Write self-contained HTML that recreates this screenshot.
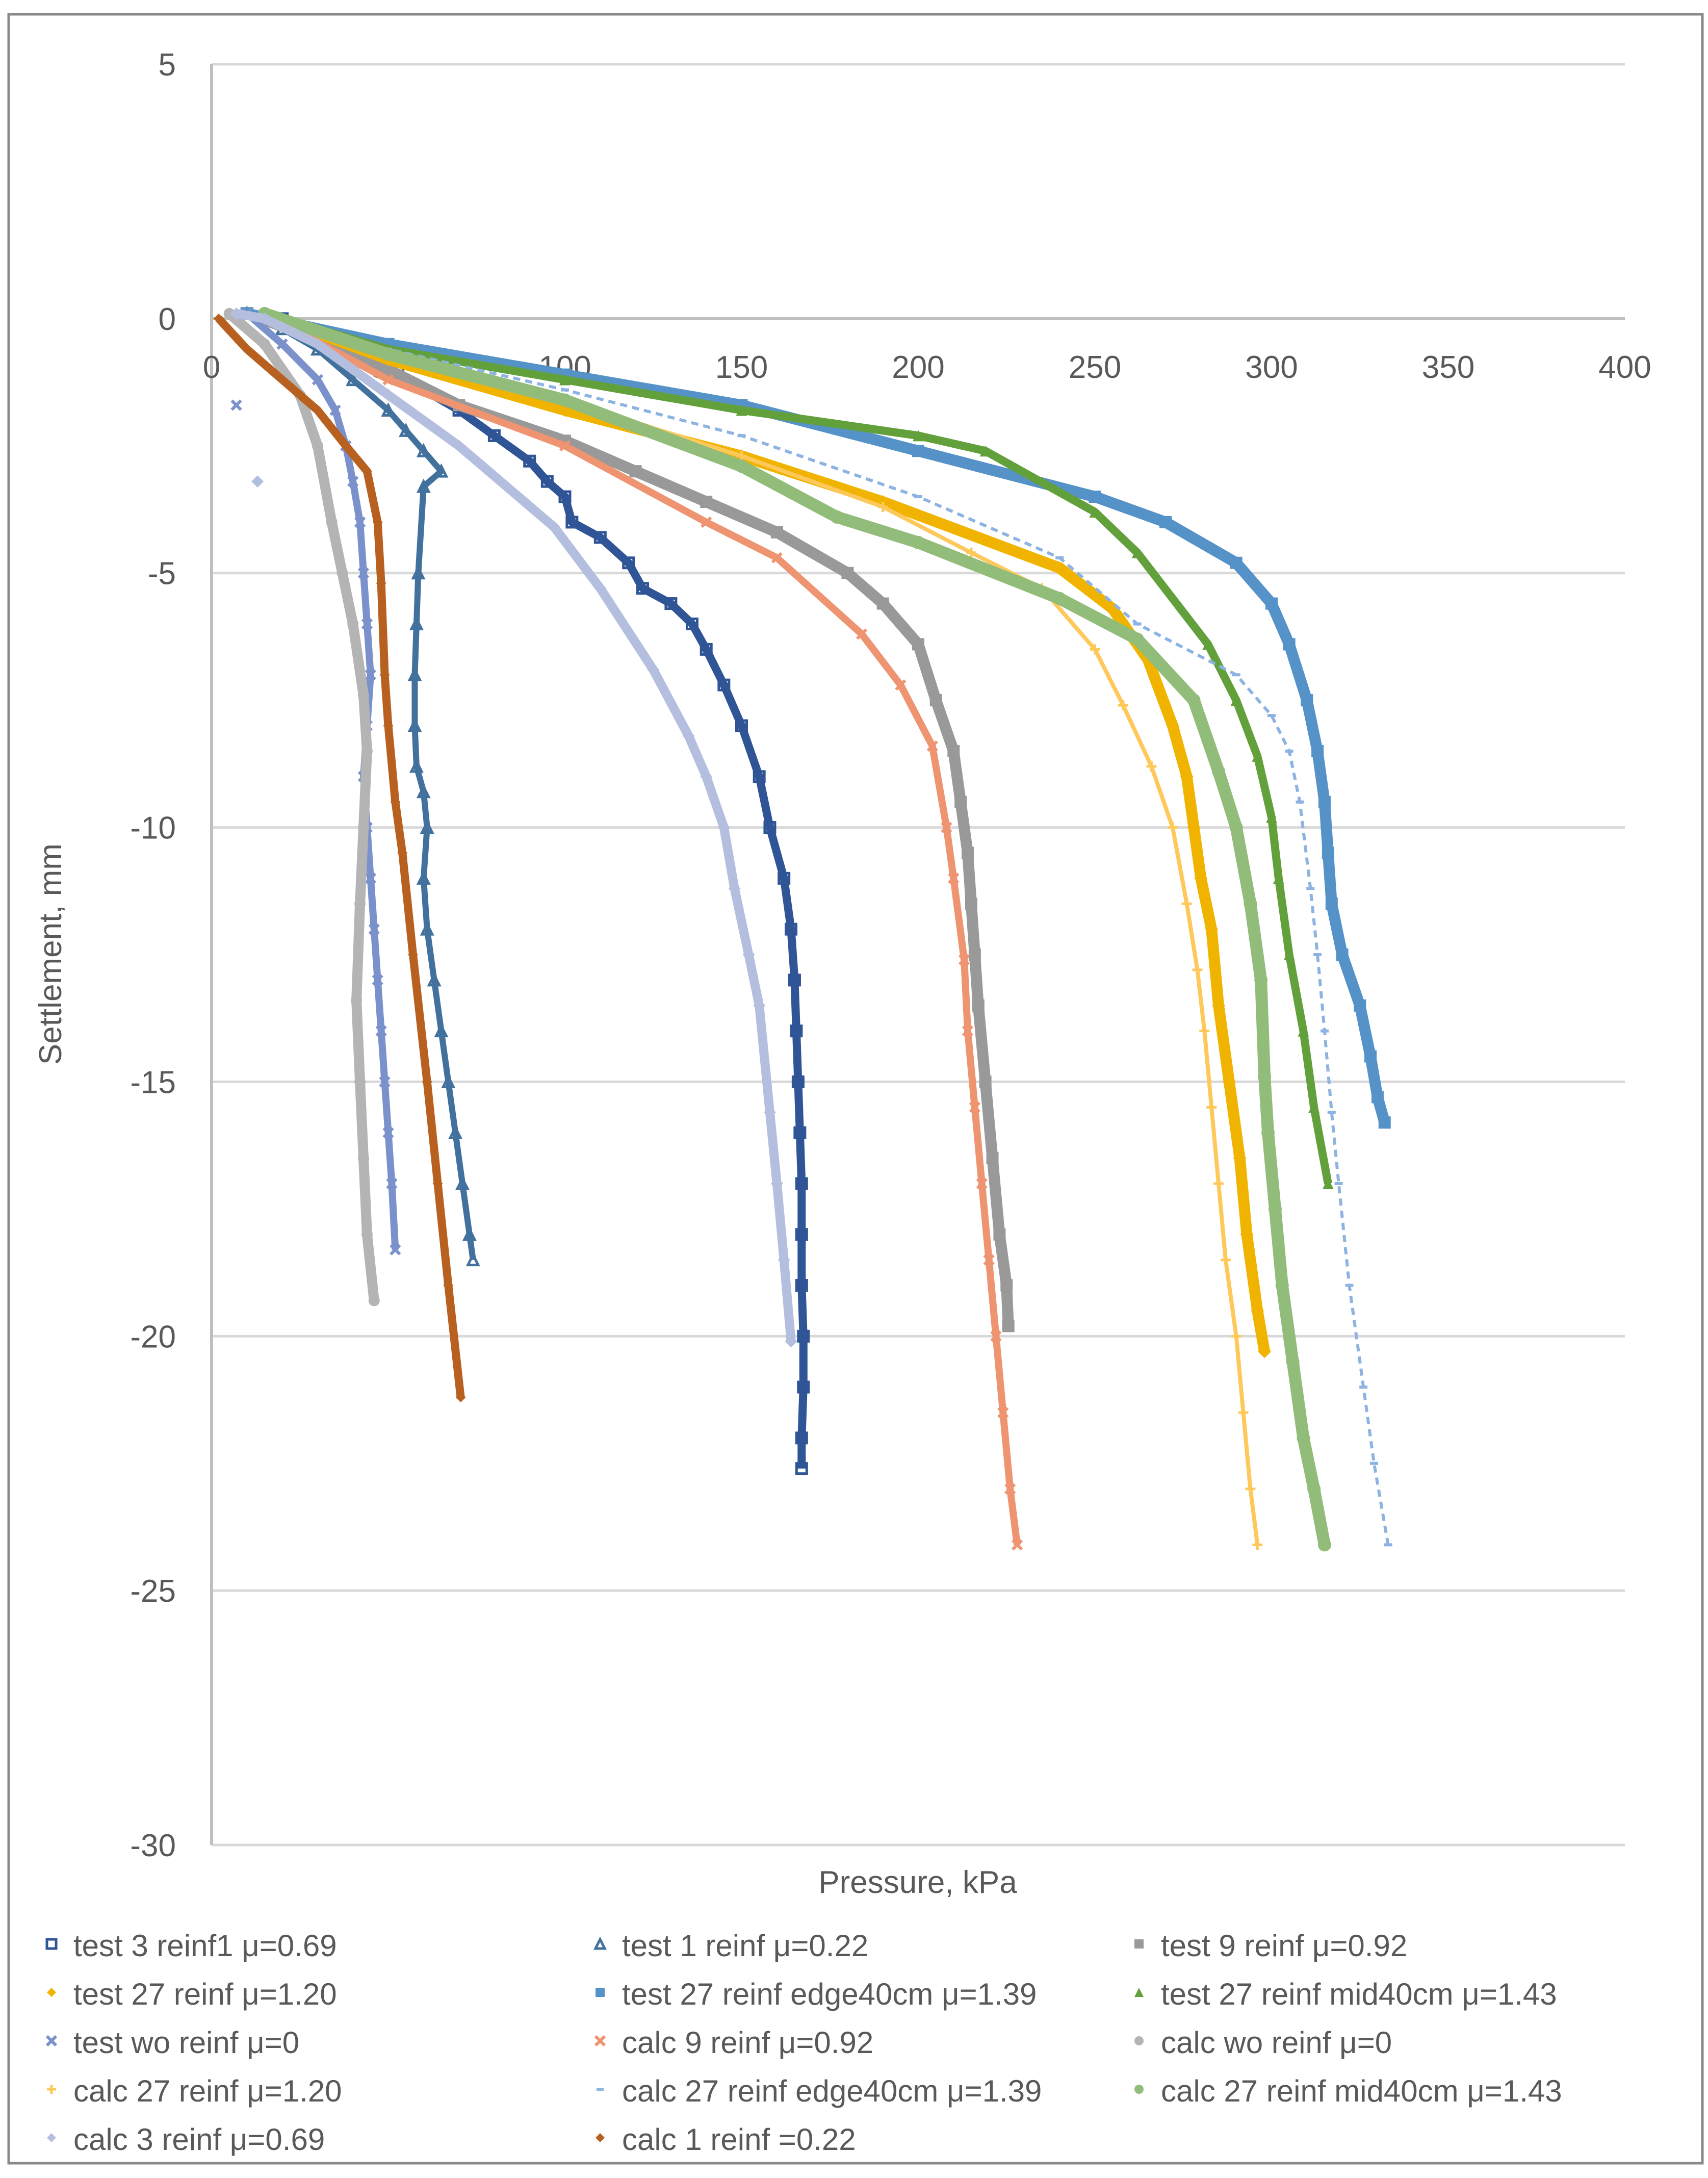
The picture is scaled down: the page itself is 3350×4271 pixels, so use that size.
<!DOCTYPE html>
<html><head><meta charset="utf-8"><style>
html,body{margin:0;padding:0;background:#fff}
svg{display:block}
text{font-family:"Liberation Sans",sans-serif;fill:#595959}
</style></head><body>
<svg id="chart" width="3350" height="4271" viewBox="0 0 3350 4271" xmlns="http://www.w3.org/2000/svg">
<rect x="17" y="28" width="3322" height="4214" fill="#fff" stroke="#8a8a8a" stroke-width="5"/>
<g id="grid"></g><g id="series"></g><g id="legend"></g>
<text x="0" y="0" transform="translate(120,1871) rotate(-90)" text-anchor="middle" font-size="62">Settlement, mm</text>
<text x="1800" y="3712" text-anchor="middle" font-size="62">Pressure, kPa</text>
</svg>
<script>
const xTicks=[0,50,100,150,200,250,300,350,400];
const yTicks=[5,0,-5,-10,-15,-20,-25,-30];
const names=["test 3 reinf1 μ=0.69","test 1 reinf μ=0.22","test 9 reinf μ=0.92","test 27 reinf μ=1.20","test 27 reinf edge40cm μ=1.39","test 27 reinf mid40cm μ=1.43","test wo reinf μ=0","calc 9 reinf μ=0.92","calc wo reinf μ=0","calc 27 reinf μ=1.20","calc 27 reinf edge40cm μ=1.39","calc 27 reinf mid40cm μ=1.43","calc 3 reinf μ=0.69","calc 1 reinf =0.22"];
const test3P=[10,20,30,50,70,80,90,95,100,102,110,118,122,130,136,140,145,150,155,158,162,164,165,165.5,166,166.5,167,167,167,167.5,167.5,167,167];
const test3S=[0.1,0,-0.4,-1.0,-1.8,-2.3,-2.8,-3.2,-3.5,-4.0,-4.3,-4.8,-5.3,-5.6,-6.0,-6.5,-7.2,-8.0,-9.0,-10,-11,-12,-13,-14,-15,-16,-17,-18,-19,-20,-21,-22,-22.6];
const test1P=[10,20,30,40,50,55,60,65,60,58.5,58,57.5,57.5,58,60,61,60,61,63,65,67,69,71,73,74];
const test1S=[0.1,-0.2,-0.6,-1.2,-1.8,-2.2,-2.6,-3.0,-3.3,-5,-6,-7,-8,-8.8,-9.3,-10,-11,-12,-13,-14,-15,-16,-17,-18,-18.5];
const test9P=[10,30,50,70,100,120,140,160,180,190,200,205,210,212,214,215,216,217,219,221,223,225,225.5];
const test9S=[0.1,-0.4,-1.0,-1.7,-2.4,-3.0,-3.6,-4.2,-5.0,-5.6,-6.4,-7.5,-8.5,-9.5,-10.5,-11.5,-12.5,-13.5,-15,-16.5,-18,-19,-19.8];
const test27P=[15,50,100,150,190,240,255,265,272,276,278,280,283,285,288,291,293,296,298];
const test27S=[0.1,-0.8,-1.8,-2.7,-3.6,-4.9,-5.7,-6.7,-8,-9,-10,-11,-12,-13.5,-15,-16.5,-18,-19.5,-20.3];
const edgeP=[10,50,100,150,200,250,270,290,300,305,310,313,315,316,317,320,325,328,330,332];
const edgeS=[0.1,-0.5,-1.1,-1.7,-2.6,-3.5,-4.0,-4.8,-5.6,-6.4,-7.5,-8.5,-9.5,-10.5,-11.5,-12.5,-13.5,-14.5,-15.3,-15.8];
const midP=[15,50,100,150,200,219,250,262,282,290,296,300,302,305,309,312,316];
const midS=[0.1,-0.6,-1.2,-1.8,-2.3,-2.6,-3.8,-4.6,-6.4,-7.5,-8.6,-9.8,-11,-12.5,-14,-15.5,-17];
const woP=[10,20,30,35,38,40,42,43,44,45,44,43,44,45,46,47,48,49,50,51,52];
const woS=[0.1,-0.5,-1.2,-1.8,-2.5,-3.2,-4,-5,-6,-7,-8,-9,-10,-11,-12,-13,-14,-15,-16,-17,-18.3];
const c9P=[15,50,100,140,160,184,195,204,208,210,213,214,216,218,220,222,224,226,228];
const c9S=[0.1,-1.2,-2.5,-4.0,-4.7,-6.2,-7.2,-8.4,-10,-11,-12.6,-14,-15.5,-17,-18.5,-20,-21.5,-23,-24.1];
const cwoP=[5,15,25,30,34,37,40,43,44,43,42,41,42,43,44,46];
const cwoS=[0.1,-0.5,-1.5,-2.5,-4.0,-5.0,-6.0,-7.4,-8.5,-10,-11.5,-13.4,-15,-16.5,-18,-19.3];
const c27P=[15,50,100,150,190,215,235,250,258,266,272,276,279,281,283,285,287,290,292,294,296];
const c27S=[0.1,-0.7,-1.6,-2.7,-3.7,-4.6,-5.3,-6.5,-7.6,-8.8,-10,-11.5,-12.8,-14,-15.5,-17,-18.5,-20,-21.5,-23,-24.1];
const cEdgeP=[15,50,100,150,200,240,262,290,300,305,308,311,313,315,317,319,322,326,329,333];
const cEdgeS=[0.1,-0.6,-1.4,-2.3,-3.5,-4.7,-6.0,-7.0,-7.8,-8.5,-9.5,-11.2,-12.5,-14,-15.6,-17,-19,-21,-22.5,-24.1];
const cMidP=[15,50,100,150,177,200,240,262,278,285,290,294,297,298,299,301,303,306,309,312,315];
const cMidS=[0.1,-0.7,-1.6,-2.9,-3.9,-4.4,-5.5,-6.3,-7.5,-8.9,-10,-11.5,-13,-14.9,-16,-17.5,-19,-20.5,-22,-23,-24.1];
const c3P=[7,15,30,50,70,97,110,125,135,140,145,148,152,155,158,160,162,164,13];
const c3S=[0.1,0,-0.5,-1.5,-2.5,-4.1,-5.3,-6.9,-8.2,-9.0,-10,-11.2,-12.5,-13.5,-15.6,-17,-18.5,-20.1,-3.2];
const c1P=[2,10,20,30,38,44,47,48,49,50,52,54,57,61,64,67,70.5];
const c1S=[0,-0.6,-1.2,-1.8,-2.5,-3.0,-4,-5.2,-7,-8,-9.5,-10.5,-12.5,-15,-17,-19,-21.2];
const L=415,R=3187,T=126,B=3618;
function xs(v){return L+(v-0)/(400-0)*(R-L);}
function ys(v){return T+(5-v)/(35)*(B-T);}
const NS="http://www.w3.org/2000/svg";
function mk(tag,attrs,parent){const e=document.createElementNS(NS,tag);for(const k in attrs)e.setAttribute(k,attrs[k]);parent.appendChild(e);return e;}
const grid=document.getElementById('grid');
yTicks.forEach(t=>{
  const l=mk('line',{x1:L,x2:R,y1:ys(t),y2:ys(t),stroke:'#d9d9d9','stroke-width':5},grid);
  
  
  const tx=mk('text',{x:345,y:ys(t)+22,'text-anchor':'end','font-size':62},grid);
  tx.textContent=t;
  
  
});
const zeroLine=mk('line',{x1:L,x2:R,y1:ys(0),y2:ys(0),stroke:'#bfbfbf','stroke-width':6},grid);


const yAx=mk('line',{x1:L,x2:L,y1:T,y2:B,stroke:'#bfbfbf','stroke-width':6},grid);


xTicks.forEach(t=>{
  const tx=mk('text',{x:xs(t),y:ys(0)+116,'text-anchor':'middle','font-size':62},grid);
  tx.textContent=t;
  
  
});
function marker(g,type,color,x,y,s){
  let e;
  if(type==='sqo'){e=mk('rect',{x:x-s/2,y:y-s/2,width:s,height:s,fill:'none',stroke:color,'stroke-width':5},g);}
  else if(type==='sq'){e=mk('rect',{x:x-s/2,y:y-s/2,width:s,height:s,fill:color},g);}
  else if(type==='trio'){e=mk('path',{d:`M${x},${y-s/2}L${x+s/2},${y+s/2}L${x-s/2},${y+s/2}Z`,fill:'none',stroke:color,'stroke-width':5},g);}
  else if(type==='tri'){e=mk('path',{d:`M${x},${y-s/2}L${x+s/2},${y+s/2}L${x-s/2},${y+s/2}Z`,fill:color},g);}
  else if(type==='dia'){e=mk('path',{d:`M${x},${y-s/2}L${x+s/2},${y}L${x},${y+s/2}L${x-s/2},${y}Z`,fill:color},g);}
  else if(type==='x'){e=mk('path',{d:`M${x-s/2},${y-s/2}L${x+s/2},${y+s/2}M${x+s/2},${y-s/2}L${x-s/2},${y+s/2}`,stroke:color,'stroke-width':6},g);}
  else if(type==='plus'){e=mk('path',{d:`M${x-s/2},${y}L${x+s/2},${y}M${x},${y-s/2}L${x},${y+s/2}`,stroke:color,'stroke-width':5},g);}
  else if(type==='dash'){e=mk('rect',{x:x-s/2,y:y-3,width:s,height:6,fill:color},g);}
  else {e=mk('circle',{cx:x,cy:y,r:s/2,fill:color},g);}
  return e;
}
const seriesDefs=[
 [test3P,test3S,'#2f5597','sqo',20,16],
 [test1P,test1S,'#41719c','trio',20,12],
 [test9P,test9S,'#999999','sq',24,22],
 [test27P,test27S,'#f0b400','dia',26,22],
 [edgeP,edgeS,'#5592c8','sq',24,22],
 [midP,midS,'#62a03c','tri',22,16],
 [woP,woS,'#7a91cc','x',18,14],
 [c9P,c9S,'#ee9470','x',18,14],
 [cwoP,cwoS,'#b4b4b4','circ',22,20],
 [c27P,c27S,'#ffc85a','plus',20,8],
 [cEdgeP,cEdgeS,'#8db3e2','dash',16,6],
 [cMidP,cMidS,'#92bc7a','circ',26,24],
 [c3P,c3S,'#b4bfe0','dia',24,18],
 [c1P,c1S,'#b8601f','dia',20,16]
];
const sg=document.getElementById('series');
seriesDefs.forEach((d,i)=>{
  const [P,S,color,type,size,lw]=d;
  const g=mk('g',{},sg);
  
  
  let n=P.length;
  if(P===c3P) n=P.length-1;
  const pts=[];for(let k=0;k<n;k++)pts.push(xs(P[k])+','+ys(S[k]));
  const pl=mk('polyline',{points:pts.join(' '),fill:'none',stroke:color,'stroke-width':lw,'stroke-linejoin':'round','stroke-dasharray':type==='dash'?'14 10':'none'},g);
  
  
  for(let k=0;k<P.length;k++){
    const m=marker(g,type,color,xs(P[k]),ys(S[k]),size);
    
    
  }
});
const strayX=marker(sg,'x','#7a91cc',xs(7),ys(-1.7),18);


const lg=document.getElementById('legend');
const colX=[101,1177,2234],rowY=[3816,3911,4006,4101,4196];
seriesDefs.forEach((d,i)=>{
  const c=i%3,r=Math.floor(i/3);
  const g=mk('g',{},lg);
  
  
  marker(g,d[3],d[2],colX[c],rowY[r]-4,d[3]==='dash'?14:18);
  const t=mk('text',{x:colX[c]+43,y:rowY[r]+20,'font-size':60},g);
  t.textContent=names[i];
});
</script>
</body></html>
